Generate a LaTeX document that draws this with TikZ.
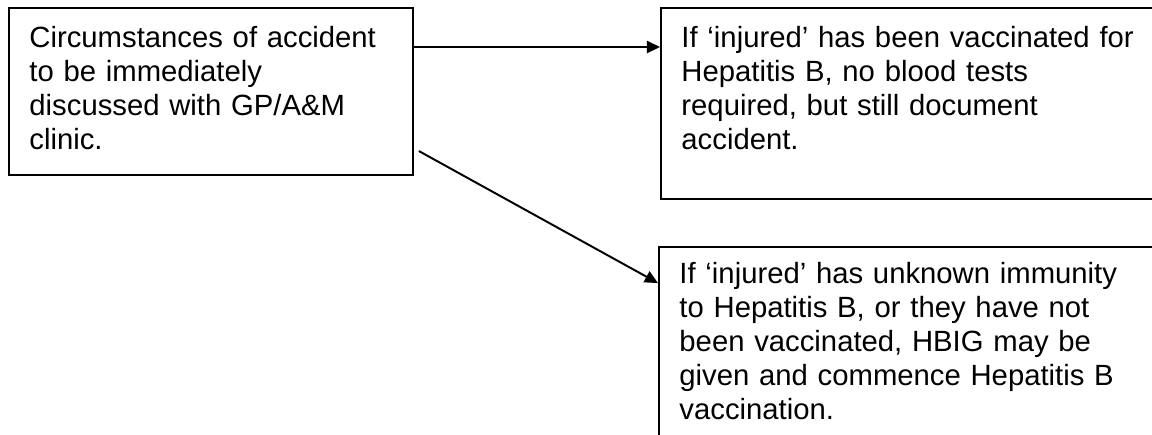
\documentclass[tikz,border=0pt]{standalone}
\usepackage{fontspec}
\setmainfont{Liberation Sans}
\usetikzlibrary{arrows.meta,calc}

\begin{document}
\begin{tikzpicture}[x=0.41pt, y=-0.41pt, line width=0.8pt, >={Triangle[length=5.4pt,width=5pt]},
  box/.style={draw, anchor=north west, align=left, inner xsep=8.4pt, inner ysep=0pt, font=\fontsize{12}{13.94}\selectfont}]
  \useasboundingbox (0,0) rectangle (1152,434);
  \clip (0,0) rectangle (1152,434);
  \node[box, text width=148.8pt, text height=16.2pt, text depth=52.3pt] (circ) at (8,7) {Circumstances of accident\\to be immediately\\discussed with GP/A\&M\\clinic.};
  \node[box, text width=196.4pt, text height=16pt, text depth=62.3pt] (vacc) at (660,7) {If ‘injured’ has been vaccinated for\\Hepatitis B, no blood tests\\required, but still document\\accident.};
  \node[box, text width=196.4pt, text height=14.8pt, text depth=75.4pt] (unk) at (658,246) {If ‘injured’ has unknown immunity\\to Hepatitis B, or they have not\\been vaccinated, HBIG may be\\given and commence Hepatitis B\\vaccination.};
  \coordinate (from) at ($(circ.south east)+(5,-25)$);
  \draw[->] (circ.east |- vacc.base) -- (vacc.base -| vacc.west);
  \draw[->] (from) -- (unk.base -| unk.west);
\end{tikzpicture}
\end{document}
